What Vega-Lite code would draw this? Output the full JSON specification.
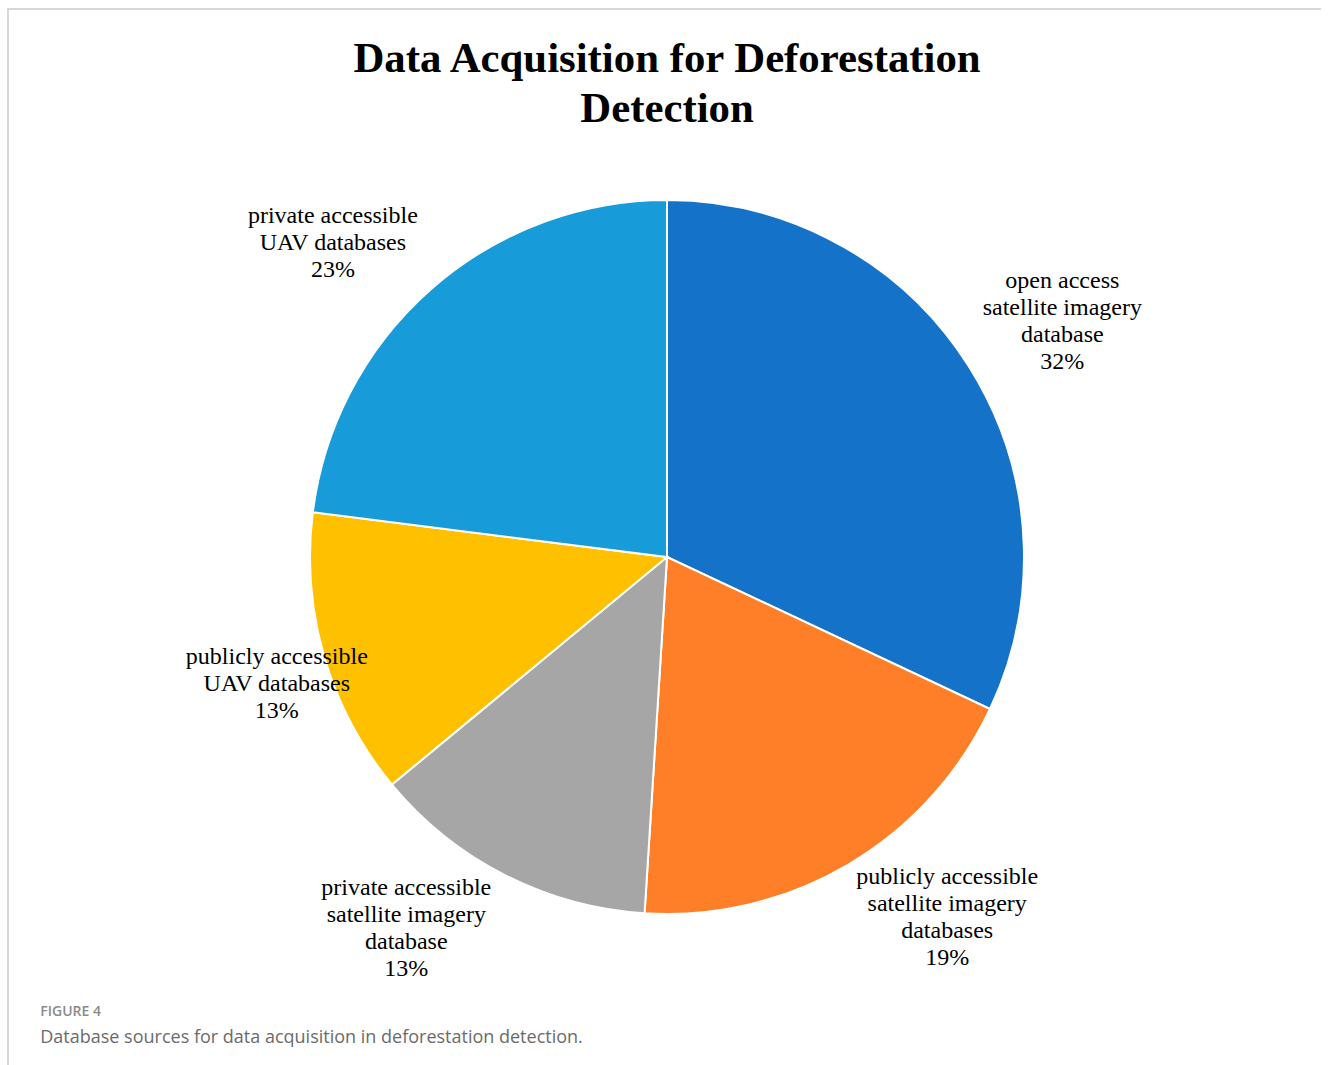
{
  "$schema": "https://vega.github.io/schema/vega-lite/v6.json",
  "background": "white",
  "padding": {"left": 7, "top": 8, "right": -6, "bottom": -39},
  "config": {
    "view": {"stroke": "#cccccc", "strokeWidth": 1.5},
    "concat": {"spacing": 0}
  },
  "title": {
    "text": "FIGURE 4",
    "subtitle": "Database sources for data acquisition in deforestation detection.",
    "orient": "bottom",
    "anchor": "start",
    "dx": 33,
    "offset": -101,
    "font": "Open Sans",
    "fontSize": 14,
    "fontWeight": 600,
    "color": "#8a8a8a",
    "subtitleFont": "Open Sans",
    "subtitleFontSize": 18,
    "subtitleFontWeight": "normal",
    "subtitleColor": "#6b6b6b",
    "subtitlePadding": 10
  },
  "vconcat": [
    {
      "width": 1318,
      "height": 1096,
      "view": {"stroke": "#cccccc", "strokeWidth": 1.5},
      "title": {
        "text": ["Data Acquisition for Deforestation", "Detection"],
        "font": "Liberation Serif",
        "fontSize": 42.8,
        "fontWeight": "bold",
        "color": "#000000",
        "lineHeight": 50,
        "anchor": "middle",
        "offset": -122
      },
      "data": {
        "values": [
          {"source": "open access satellite imagery database", "label": "open access\nsatellite imagery\ndatabase\n32%", "pct": 32, "rank": 1},
          {"source": "publicly accessible satellite imagery databases", "label": "publicly accessible\nsatellite imagery\ndatabases\n19%", "pct": 19, "rank": 2},
          {"source": "private accessible satellite imagery database", "label": "private accessible\nsatellite imagery\ndatabase\n13%", "pct": 13, "rank": 3},
          {"source": "publicly accessible UAV databases", "label": "publicly accessible\nUAV databases\n13%", "pct": 13, "rank": 4},
          {"source": "private accessible UAV databases", "label": "private accessible\nUAV databases\n23%", "pct": 23, "rank": 5}
        ]
      },
      "encoding": {
        "theta": {"field": "pct", "type": "quantitative", "stack": true},
        "order": {"field": "rank", "type": "quantitative", "sort": "ascending"}
      },
      "layer": [
        {
          "mark": {"type": "arc", "radius": 357, "stroke": "white", "strokeWidth": 2},
          "encoding": {
            "color": {
              "field": "source",
              "type": "nominal",
              "scale": {
                "domain": [
                  "open access satellite imagery database",
                  "publicly accessible satellite imagery databases",
                  "private accessible satellite imagery database",
                  "publicly accessible UAV databases",
                  "private accessible UAV databases"
                ],
                "range": ["#1473C9", "#FE7F27", "#A6A6A6", "#FFC000", "#189CD9"]
              },
              "legend": null
            }
          }
        },
        {
          "mark": {
            "type": "text",
            "radius": 354,
            "font": "Liberation Serif",
            "fontSize": 24,
            "lineHeight": 27,
            "lineBreak": "\n",
            "color": "#000000",
            "align": "center",
            "baseline": "middle",
            "dx": {"expr": "(sin((datum.pct_start + datum.pct_end) * PI / 100) > 0 ? 1 : -1) * 100 * min(1, 1.8 * abs(cos((datum.pct_start + datum.pct_end) * PI / 100)))"},
            "dy": {"expr": "-(length(split(datum.label, '\\n')) - 1) * 13.5 + (cos((datum.pct_start + datum.pct_end) * PI / 100) > 0 ? -48 : 56) * min(1, 1.8 * abs(cos((datum.pct_start + datum.pct_end) * PI / 100)))"}
          },
          "encoding": {
            "text": {"field": "label", "type": "nominal"}
          }
        }
      ]
    }
  ]
}
